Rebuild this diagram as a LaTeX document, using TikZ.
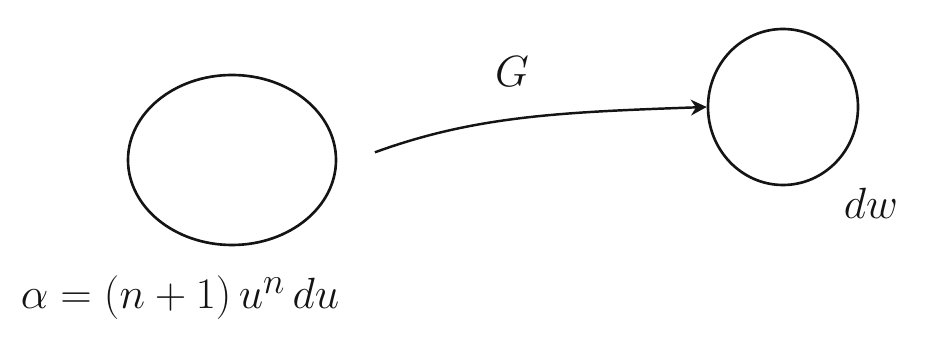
\documentclass[tikz,border=0pt]{standalone}
\usepackage{xcolor}
\usepackage{tikz}
\usepackage{amsmath}
\usetikzlibrary{shapes.geometric,arrows.meta}
\definecolor{InkBlack}{RGB}{20,20,20}

\begin{document}
\begin{tikzpicture}[
    blob/.style={draw=InkBlack,ellipse,line width=1.5pt,inner sep=0pt},
    mapto/.style={draw=InkBlack,line width=1.4pt,-{Stealth[length=9pt,width=9pt]}},
    hand/.style={text=InkBlack,font=\fontsize{28}{34}\selectfont}
  ]
    \useasboundingbox (0,0) rectangle (18.62,6.76);
    % source and target spaces
    \node[blob,minimum width=4.16cm,minimum height=3.4cm] (src) at (4.64,3.56) {};
    \node[blob,minimum width=3.0cm,minimum height=3.12cm] (tgt) at (15.66,4.62) {};
    % forms on each side
    \node[hand] (alpha) at (3.6,0.8) {$\alpha = (n+1)\,u^n\,du$};
    \node[hand] (dw) at (17.42,2.7) {$dw$};
    % the map
    \draw[mapto,shorten <=0.8cm] ([yshift=-0.12cm]src.east) to[out=20,in=182]
      node[hand,pos=0.48,above=0.55cm] (glabel) {$G$} (tgt.west);
  \end{tikzpicture}
\end{document}
